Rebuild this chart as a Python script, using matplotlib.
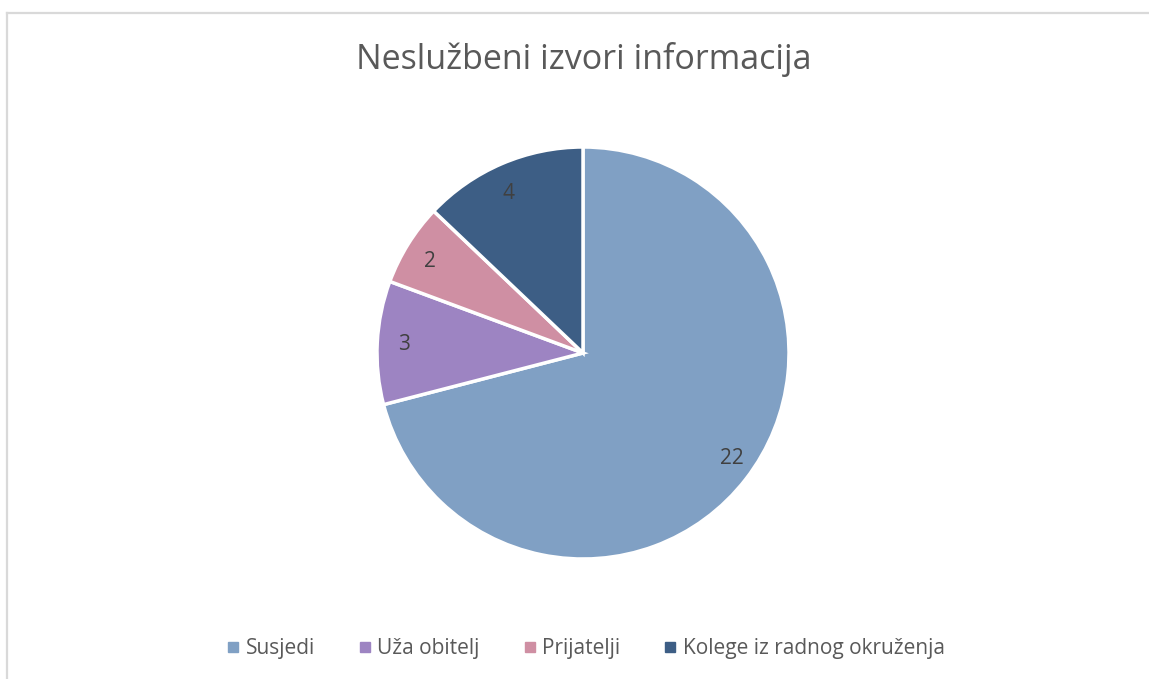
import matplotlib
matplotlib.use('Agg')
import matplotlib.pyplot as plt
from matplotlib.lines import Line2D

# data
categories = ['Susjedi', 'Uža obitelj', 'Prijatelji', 'Kolege iz radnog okruženja']
values = [22, 3, 2, 4]
colors = ['#80A0C4', '#9D84C2', '#CF8FA3', '#3D5E85']

plt.rcParams['font.family'] = ['Open Sans', 'DejaVu Sans']

fig = plt.figure(figsize=(11.49, 6.79), dpi=100)

# chart border (light grey, cut by the image edge on right and bottom)
fig.add_artist(Line2D([0.0065, 0.0065], [0, 0.981], color='#D9D9D9', lw=1.6))
fig.add_artist(Line2D([0.0065, 1], [0.981, 0.981], color='#D9D9D9', lw=1.6))

fig.text(0.508, 0.913, 'Neslužbeni izvori informacija', ha='center', va='center',
         fontsize=24.5, color='#595959')

# pie area
cx, cy, r = 583 / 1149, 1 - 353 / 679, 206
ax = fig.add_axes([cx - r / 1149, cy - r / 679, 2 * r / 1149, 2 * r / 679])
wedges, texts = ax.pie(values, colors=colors, startangle=90, counterclock=False,
                       labels=[str(v) for v in values], labeldistance=0.84,
                       wedgeprops=dict(edgecolor='white', linewidth=2.5),
                       textprops=dict(fontsize=15, color='#404040'))
ax.set_xlim(-1, 1)
ax.set_ylim(-1, 1)
ax.set_aspect('auto')
ax.axis('off')

handles = [Line2D([], [], marker='s', linestyle='none', markersize=7.5,
                  markerfacecolor=c, markeredgecolor=c) for c in colors]
fig.legend(handles, categories, loc='center', bbox_to_anchor=(0.508, 0.045),
           ncol=4, frameon=False, fontsize=15, labelcolor='#595959',
           handletextpad=0.1, columnspacing=1.9, handlelength=1.0)

plt.savefig('out.png', dpi=100)
